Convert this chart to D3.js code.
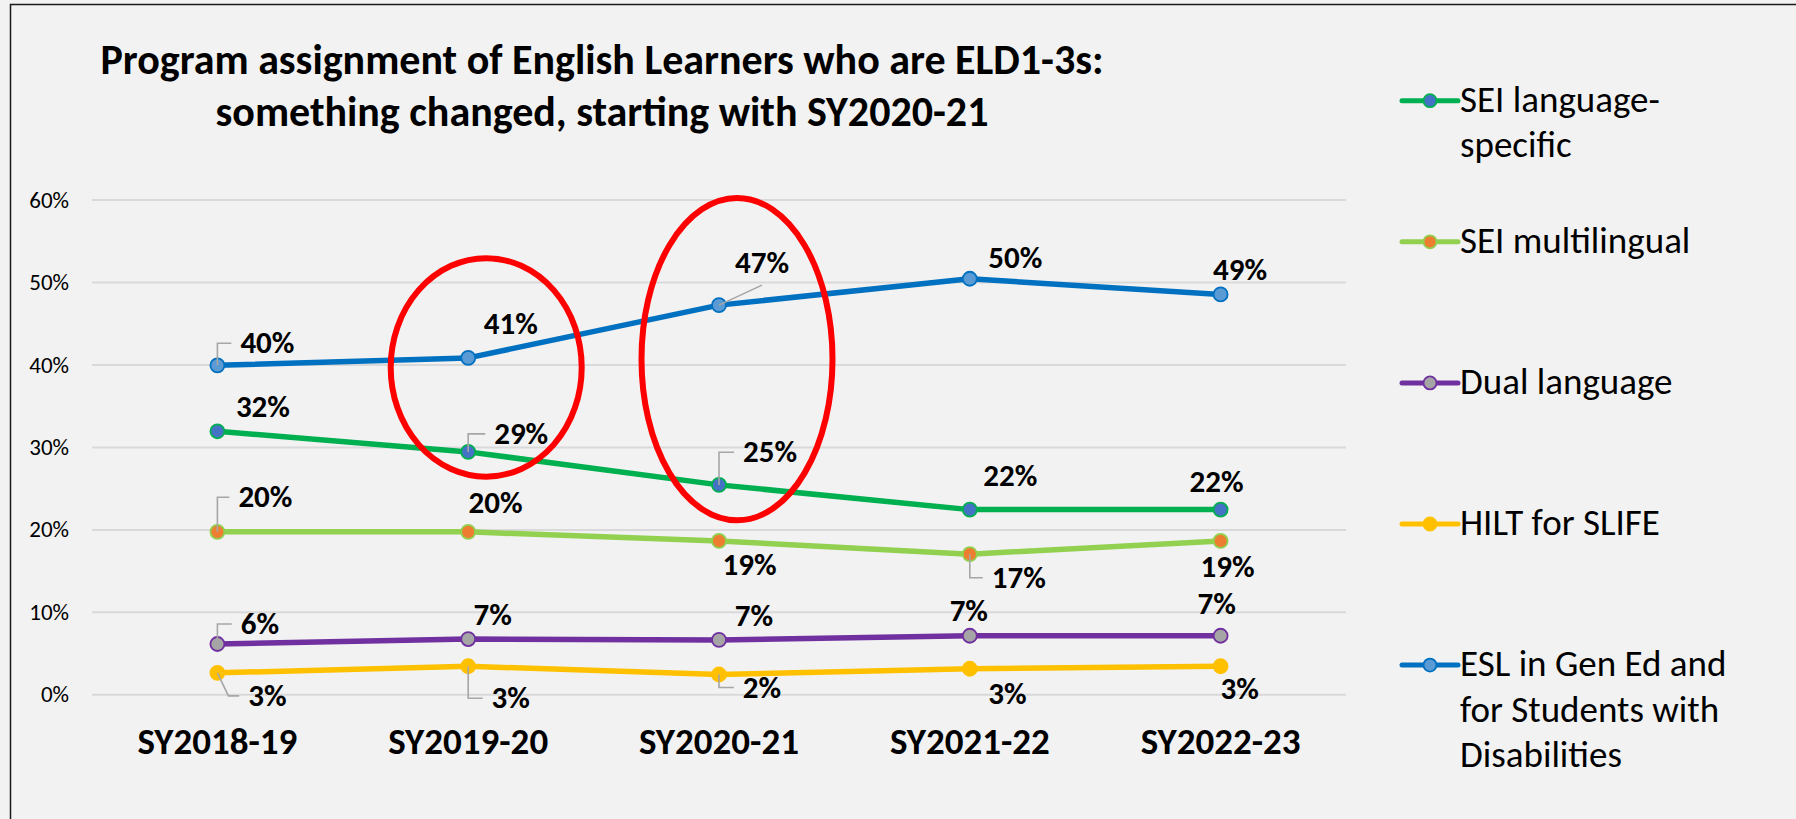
<!DOCTYPE html>
<html>
<head>
<meta charset="utf-8">
<script src="https://cdn.jsdelivr.net/npm/d3@7/dist/d3.min.js"></script>
<style>
  body { margin: 0; background: #f2f2f2; }
  svg { display: block; }
  text { font-family: Carlito, Calibri, Lato, sans-serif; }
</style>
</head>
<body>
<div id="chart"></div>
<script>
// data (share of ELD1-3 English Learners)
var years = ["SY2018-19", "SY2019-20", "SY2020-21", "SY2021-22", "SY2022-23"];
var seiSpecific = [0.319, 0.294, 0.254, 0.224, 0.224];
var seiMulti    = [0.197, 0.197, 0.186, 0.170, 0.186];
var dualLang    = [0.061, 0.067, 0.066, 0.071, 0.071];
var hiltSlife   = [0.026, 0.034, 0.024, 0.031, 0.034];
var eslGenEd    = [0.399, 0.408, 0.472, 0.504, 0.485];
var yTicks = [0, 0.1, 0.2, 0.3, 0.4, 0.5, 0.6];

var titleLines = ["Program assignment of English Learners who are ELD1-3s:",
                  "something changed, starting with SY2020-21"];

// the two red rings drawn over the chart (year, bottom and top value)
var rings = [
  {year: "SY2019-20", low: 0.264, high: 0.529},
  {year: "SY2020-21", low: 0.211, high: 0.602}
];

var W = 1796, H = 819;
var margin = {left: 92, right: 1346, top: 199.6, bottom: 694.3};

var svg = d3.select("#chart").append("svg")
    .attr("width", W)
    .attr("height", H);

svg.append("rect")
    .attr("width", W).attr("height", H)
    .attr("fill", "#f2f2f2");

// chart frame (only left and top edges show in the picture)
svg.append("rect")
    .attr("x", 10.5).attr("y", 4.5)
    .attr("width", W + 20).attr("height", H + 20)
    .attr("fill", "none")
    .attr("stroke", "#1a1a1a")
    .attr("stroke-width", 1.5);

var x = d3.scaleBand().domain(years).range([margin.left, margin.right]);
var xc = function(d) { return x(d) + x.bandwidth() / 2; };
var y = d3.scaleLinear().domain([0, 0.6]).range([margin.bottom, margin.top]);
var pct = d3.format(".0%");

// gridlines + y labels
var yAxis = svg.append("g")
    .attr("transform", "translate(" + margin.left + ",0)")
    .call(d3.axisLeft(y).tickValues(yTicks).tickFormat(pct)
        .tickSize(-(margin.right - margin.left)).tickPadding(23));
yAxis.select(".domain").remove();
yAxis.selectAll("line").attr("stroke", "#d9d9d9").attr("stroke-width", 2);
yAxis.selectAll("text")
    .attr("fill", "#000")
    .style("font-size", "23px")
    .attr("dy", "0.33em");

// x labels
var xAxis = svg.append("g")
    .attr("transform", "translate(0," + margin.bottom + ")")
    .call(d3.axisBottom(x).tickSize(0).tickPadding(0));
xAxis.select(".domain").remove();
xAxis.selectAll("text")
    .attr("fill", "#000")
    .attr("y", 59.5)
    .attr("dy", null)
    .style("font-size", "37px")
    .style("font-weight", "bold");

// title
svg.append("g").selectAll("text")
    .data(titleLines)
    .enter().append("text")
    .attr("x", 602)
    .attr("y", function(d, i) { return 74 + i * 52; })
    .attr("text-anchor", "middle")
    .style("font-size", "42px")
    .style("font-weight", "bold")
    .text(function(d) { return d; });

// series, in legend order
var series = [
  {name: ["SEI language-", "specific"], values: seiSpecific, line: "#00b050", fill: "#4472c4",
   labels: [[45.5, -14, null], [53, -8, "up"], [51, -22.6, "up"], [40.5, -24, null], [-4, -18, null]]},
  {name: ["SEI multilingual"], values: seiMulti, line: "#92d050", fill: "#ed7d31",
   labels: [[48, -24.6, "up"], [27.4, -18.5, null], [30.6, 34.3, null], [49, 33.6, "down"], [7, 35.6, null]]},
  {name: ["Dual language"], values: dualLang, line: "#7030a0", fill: "#a5a5a5",
   labels: [[42.5, -10, "up"], [24.5, -14, null], [35, -13.7, null], [-1, -14.6, null], [-4, -21.4, null]]},
  {name: ["HILT for SLIFE"], values: hiltSlife, line: "#ffc000", fill: "#ffc000",
   labels: [[50, 33, "slant"], [42.5, 42, "down"], [43, 23, "down"], [37.7, 35.7, null], [19, 33, null]]},
  {name: ["ESL in Gen Ed and", "for Students with", "Disabilities"], values: eslGenEd, line: "#0070c0", fill: "#5b9bd5",
   labels: [[50, -12, "up"], [42.6, -24, null], [43, -32, "diag"], [45.5, -10.7, null], [19.5, -14.3, null]]}
];

var line = d3.line()
    .x(function(d, i) { return xc(years[i]); })
    .y(function(d) { return y(d); });

var plot = svg.append("g");
series.forEach(function(s) {
  plot.append("path")
      .datum(s.values)
      .attr("d", line)
      .attr("fill", "none")
      .attr("stroke", s.line)
      .attr("stroke-width", 5.5)
      .attr("stroke-linejoin", "round")
      .attr("stroke-linecap", "round");

  plot.selectAll(null)
      .data(s.values)
      .enter().append("circle")
      .attr("cx", function(d, i) { return xc(years[i]); })
      .attr("cy", function(d) { return y(d); })
      .attr("r", 7)
      .attr("fill", s.fill)
      .attr("stroke", s.line)
      .attr("stroke-width", 1.8);
});

// data labels with Excel-style leader lines
var labels = svg.append("g");
series.forEach(function(s) {
  s.values.forEach(function(v, i) {
    var px = xc(years[i]), py = y(v);
    var pos = s.labels[i];
    var cx = px + pos[0], by = py + pos[1];
    var t = labels.append("text")
        .attr("x", cx).attr("y", by)
        .attr("text-anchor", "middle")
        .style("font-size", "31px")
        .style("font-weight", "bold")
        .text(pct(v));
    if (!pos[2]) return;
    var w = t.node().getComputedTextLength();
    var left = cx - w / 2 - 9, mid = by - 10;
    var p;
    if (pos[2] == "up" || pos[2] == "down") {
      p = "M" + px + "," + py + "V" + mid + "H" + left;
    } else if (pos[2] == "slant") {
      p = "M" + px + "," + py + "L" + (px + 11) + "," + mid + "H" + left;
    } else {
      p = "M" + px + "," + py + "L" + cx + "," + (by + 12);
    }
    labels.insert("path", ":first-child")
        .attr("d", p)
        .attr("fill", "none")
        .attr("stroke", "#a6a6a6")
        .attr("stroke-width", 1.6);
  });
});

// red rings
svg.append("g").selectAll("ellipse")
    .data(rings)
    .enter().append("ellipse")
    .attr("cx", function(d) { return xc(d.year) + 18; })
    .attr("cy", function(d) { return (y(d.low) + y(d.high)) / 2; })
    .attr("rx", 95.5)
    .attr("ry", function(d) { return (y(d.low) - y(d.high)) / 2; })
    .attr("fill", "none")
    .attr("stroke", "#ff0000")
    .attr("stroke-width", 6);

// legend
var legend = svg.append("g").attr("transform", "translate(1402,0)");
series.forEach(function(s, k) {
  var ly = 100.7 + k * 141.1;
  var g = legend.append("g").attr("transform", "translate(0," + ly + ")");
  g.append("line")
      .attr("x1", 0).attr("x2", 56)
      .attr("stroke", s.line)
      .attr("stroke-width", 5)
      .attr("stroke-linecap", "round");
  g.append("circle")
      .attr("cx", 28).attr("r", 6.5)
      .attr("fill", s.fill)
      .attr("stroke", s.line)
      .attr("stroke-width", 1.8);
  g.selectAll("text")
      .data(s.name)
      .enter().append("text")
      .attr("x", 58)
      .attr("y", function(d, i) { return 11 + i * 45.5; })
      .style("font-size", "37px")
      .text(function(d) { return d; });
});
</script>
</body>
</html>
